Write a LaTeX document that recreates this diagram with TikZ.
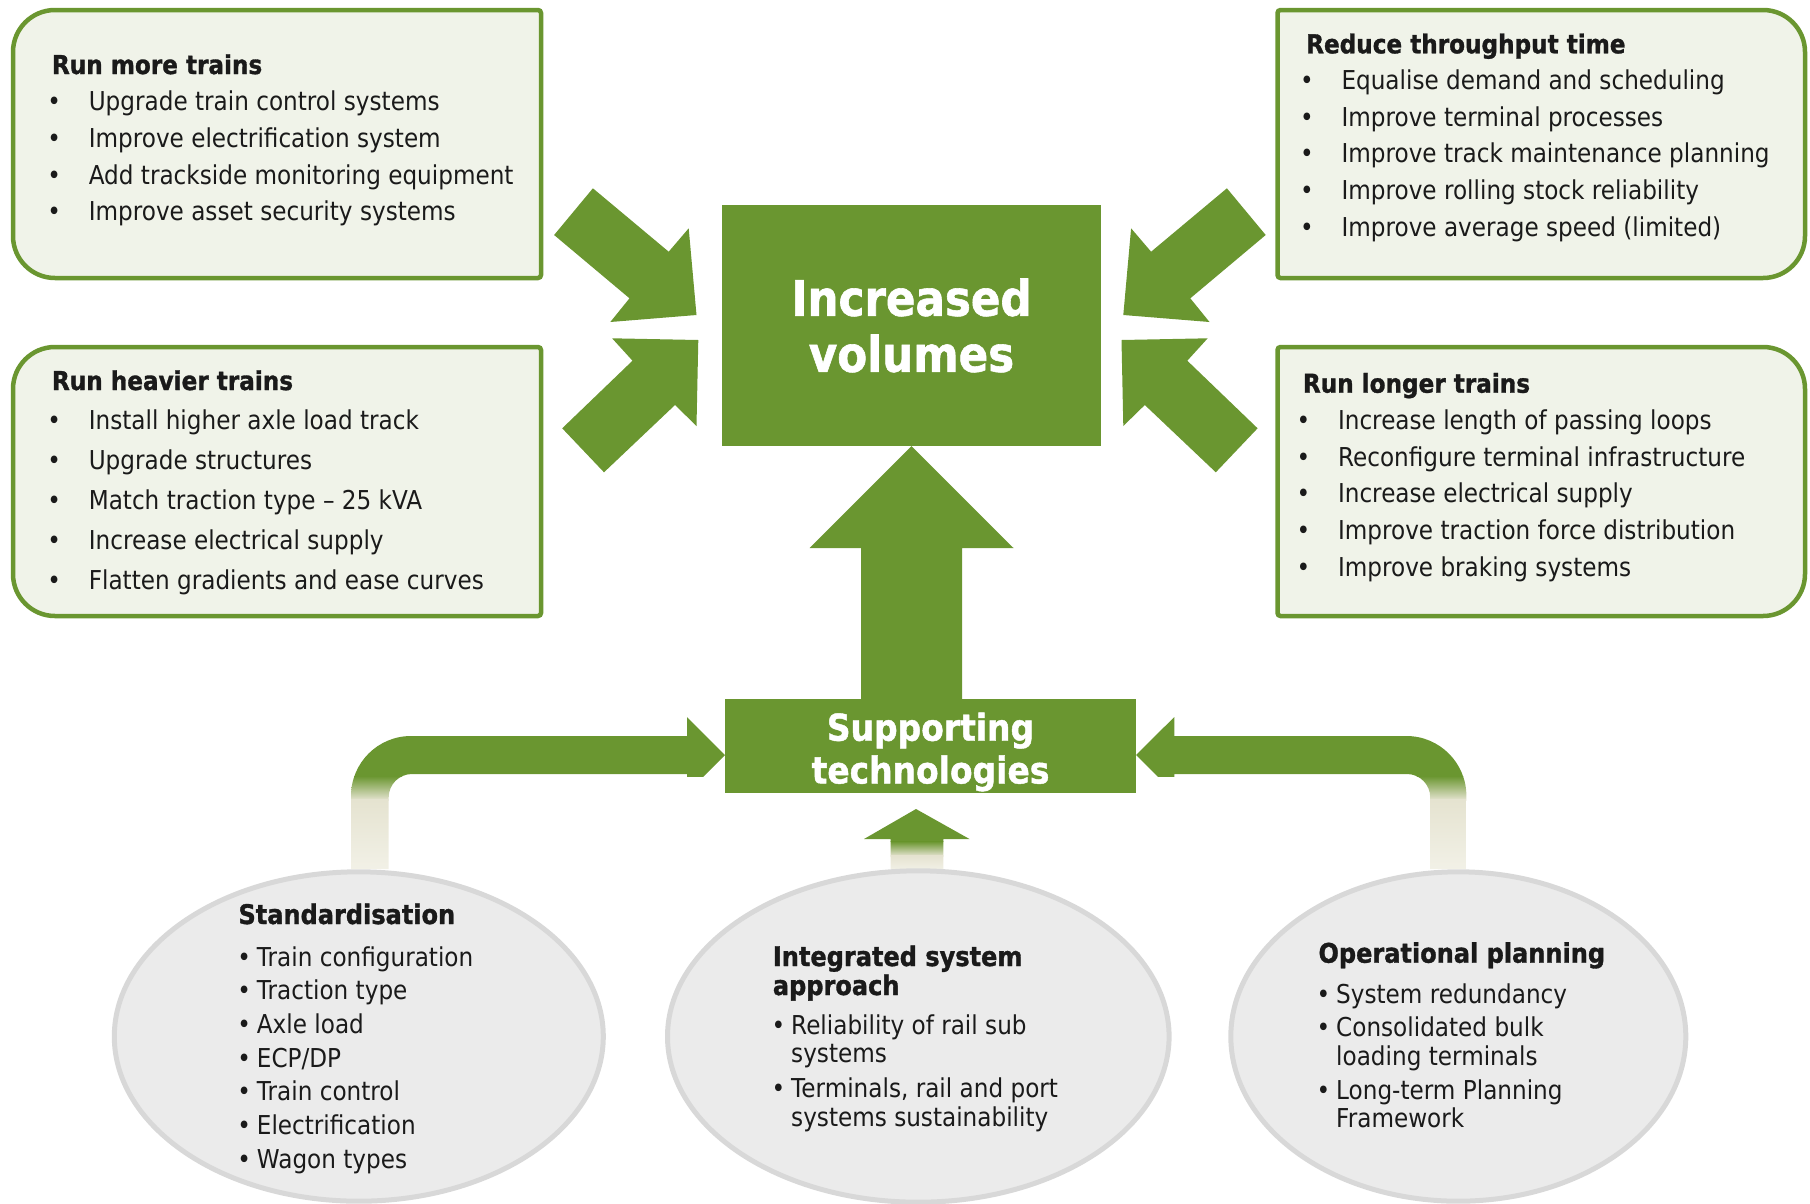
\documentclass[tikz,border=0pt]{standalone}
\usepackage{fontspec}
\setmainfont{DejaVu Sans}[FakeStretch=0.89, BoldFeatures={FakeBold=1.2}]
\usetikzlibrary{shapes.geometric}
\definecolor{railgreen}{RGB}{106,150,48}
\definecolor{panelfill}{RGB}{240,243,233}
\definecolor{ovalfill}{RGB}{235,235,235}
\definecolor{ovalline}{RGB}{216,216,216}
\definecolor{stubcream}{RGB}{229,227,208}
\definecolor{stubpale}{RGB}{242,241,231}
\definecolor{inktext}{RGB}{26,26,26}
\newcommand\itemdot[1][41.5pt]{\llap{\makebox[#1][l]{\textbullet}}}
% outlines of the feeder arrows (shared by fill and clip)
\newcommand\leftbend{(351,869) -- (351,796) arc[start angle=180,end angle=270,radius=60]
  -- (687,736) -- (687,717) -- (725,755) -- (687,793) -- (687,774) -- (412,774)
  arc[start angle=270,end angle=180,radius=23.3] -- (388.7,869) -- cycle}
\newcommand\rightbend{(1466.4,869) -- (1466.4,796) arc[start angle=0,end angle=-90,radius=60]
  -- (1174.3,736) -- (1174.3,717) -- (1136,755) -- (1174.3,793) -- (1174.3,774) -- (1406.9,774)
  arc[start angle=270,end angle=360,radius=23.3] -- (1430.2,869) -- cycle}
\newcommand\midstub{(916,809) -- (969.5,839) -- (943.3,839) -- (943.3,869)
  -- (890.6,869) -- (890.6,839) -- (864,839) -- cycle}
\tikzset{
  panel/.style={draw=railgreen, fill=panelfill, line width=4.5pt},
  block/.style={fill=railgreen},
  goal/.style={rectangle, fill=railgreen, inner sep=0pt, align=center, text=white,
               font=\bfseries\fontsize{49}{56}\selectfont},
  techbox/.style={rectangle, fill=railgreen, inner sep=0pt},
  techtext/.style={inner sep=0pt, align=center, text=white,
               font=\bfseries\fontsize{37}{42.7}\selectfont},
  oval/.style={ellipse, draw=ovalline, fill=ovalfill, line width=5pt, inner sep=0pt},
  ptitle/.style={anchor=base west, inner sep=0pt, font=\bfseries\fontsize{26}{31}\selectfont},
  pitem/.style={anchor=base west, inner sep=0pt, font=\fontsize{26}{31}\selectfont},
  otitle/.style={anchor=base west, inner sep=0pt, font=\bfseries\fontsize{27}{31}\selectfont},
  oitem/.style={anchor=base west, inner sep=0pt, font=\fontsize{26}{31}\selectfont}
}
\begin{document}
\begin{tikzpicture}[x=1pt, y=-1pt, every node/.style={text=inktext}]
\useasboundingbox (0,0) rectangle (1810,1203);

% four lever panels
\draw[panel] (300,10) [rounded corners=42] -- (13,10) -- (13,278) -- (300,278)
  [rounded corners=3] -- (541,278) -- (541,10) -- cycle;
\draw[panel] (300,347) [rounded corners=42] -- (13,347) -- (13,616) -- (300,616)
  [rounded corners=3] -- (541,616) -- (541,347) -- cycle;
\draw[panel] (1540,10) [rounded corners=42] -- (1805,10) -- (1805,278) -- (1540,278)
  [rounded corners=3] -- (1277.5,278) -- (1277.5,10) -- cycle;
\draw[panel] (1540,347) [rounded corners=42] -- (1805,347) -- (1805,616) -- (1540,616)
  [rounded corners=3] -- (1277.5,616) -- (1277.5,347) -- cycle;

% central goal and supporting box
\node[goal, minimum width=379, minimum height=241] (vol) at (911.5,325.5) {Increased\\volumes};
\node[techbox, minimum width=411, minimum height=94] (tech) at (930.5,746) {};
\node[techtext] (techtxt) at ([yshift=-6pt]tech.center) {Supporting\\technologies};

% arrows pointing in from the panels (mirrored for the right side)
\foreach \sx/\dx in {1/0, -1/1819.8}
{
  \begin{scope}[xshift=\dx pt, xscale=\sx]
    \fill[block] (592.9,188.3) -- (668.7,251.7) -- (688.7,228.3) -- (696.5,315)
      -- (610.3,322) -- (629.5,298.3) -- (554.1,235) -- cycle;
    \fill[block] (612.1,338.3) -- (698.3,340) -- (696.5,426) -- (675,405)
      -- (604,472.3) -- (562.2,428.3) -- (632.5,360.7) -- cycle;
  \end{scope}
}

% big up arrow
\fill[block] (vol.south) -- (1013.5,548) -- (962,548) -- (962,700) -- (861,700)
  -- (861,548) -- (809.5,548) -- cycle;

% feeder arrows, fading out towards the ovals
\begin{scope}
  \clip \leftbend;
  \fill[railgreen] (300,700) rectangle (760,777);
  \shade[top color=railgreen, bottom color=stubcream] (300,776) rectangle (430,800);
  \shade[top color=stubcream, bottom color=stubpale] (300,799.5) rectangle (430,870);
\end{scope}
\begin{scope}
  \clip \rightbend;
  \fill[railgreen] (1100,700) rectangle (1500,777);
  \shade[top color=railgreen, bottom color=stubcream] (1380,776) rectangle (1500,800);
  \shade[top color=stubcream, bottom color=stubpale] (1380,799.5) rectangle (1500,870);
\end{scope}
\begin{scope}
  \clip \midstub;
  \fill[railgreen] (850,800) rectangle (980,842);
  \shade[top color=railgreen, bottom color=stubcream] (850,841.5) rectangle (980,856);
  \shade[top color=stubcream, bottom color=stubpale] (850,855.5) rectangle (980,870);
\end{scope}

% ovals
\node[oval, minimum width=489, minimum height=329.4] (stdz) at (358.8,1036.5) {};
\node[oval, minimum width=501.6, minimum height=331.4] (isa) at (918.3,1036.5) {};
\node[oval, minimum width=455, minimum height=329.4] (ops) at (1458.3,1036.5) {};

% panel texts
\node[ptitle] (more) at (51.8,74) {Run more trains};
\foreach \t [count=\i from 0] in {Upgrade train control systems, Improve electrification system,
    Add trackside monitoring equipment, Improve asset security systems}
  \node[pitem] (more\i) at (88.6,110.7+36.7*\i) {\itemdot\t};

\node[ptitle] (heavy) at (51.8,390) {Run heavier trains};
\foreach \t [count=\i from 0] in {Install higher axle load track, Upgrade structures,
    Match traction type – 25 kVA, Increase electrical supply, Flatten gradients and ease curves}
  \node[pitem] (heavy\i) at (88.6,429.3+40*\i) {\itemdot\t};

\node[ptitle] (thru) at (1306,53.3) {Reduce throughput time};
\foreach \t [count=\i from 0] in {Equalise demand and scheduling, Improve terminal processes,
    Improve track maintenance planning, Improve rolling stock reliability,
    Improve average speed (limited)}
  \node[pitem] (thru\i) at (1341.3,89.3+36.8*\i) {\itemdot\t};

\node[ptitle] (long) at (1302.7,392.7) {Run longer trains};
\foreach \t [count=\i from 0] in {Increase length of passing loops, Reconfigure terminal infrastructure,
    Increase electrical supply, Improve traction force distribution, Improve braking systems}
  \node[pitem] (long\i) at (1337.8,429.3+36.8*\i) {\itemdot\t};

% oval texts
\node[otitle] (stdz-t) at (238.3,924) {Standardisation};
\foreach \t [count=\i from 0] in {Train configuration, Traction type, Axle load, ECP/DP,
    Train control, Electrification, Wagon types}
  \node[oitem] (stdz\i) at (256.7,966+33.7*\i) {\itemdot[19.5pt]\t};

\node[otitle] (isa-t) at (772.7,966) {Integrated system};
\node[otitle] (isa-t2) at (772.7,995) {approach};
\node[oitem] (isa1) at (791,1034) {\itemdot[19.5pt]Reliability of rail sub};
\node[oitem] (isa1b) at (791,1062.7) {systems};
\node[oitem] (isa2) at (791,1097.3) {\itemdot[19.5pt]Terminals, rail and port};
\node[oitem] (isa2b) at (791,1126) {systems sustainability};

\node[otitle] (ops-t) at (1318.3,962.7) {Operational planning};
\node[oitem] (ops1) at (1336,1003.3) {\itemdot[19.5pt]System redundancy};
\node[oitem] (ops2) at (1336,1036.7) {\itemdot[19.5pt]Consolidated bulk};
\node[oitem] (ops2b) at (1336,1065) {loading terminals};
\node[oitem] (ops3) at (1336,1099.3) {\itemdot[19.5pt]Long-term Planning};
\node[oitem] (ops3b) at (1336,1127.7) {Framework};
\end{tikzpicture}
\end{document}
